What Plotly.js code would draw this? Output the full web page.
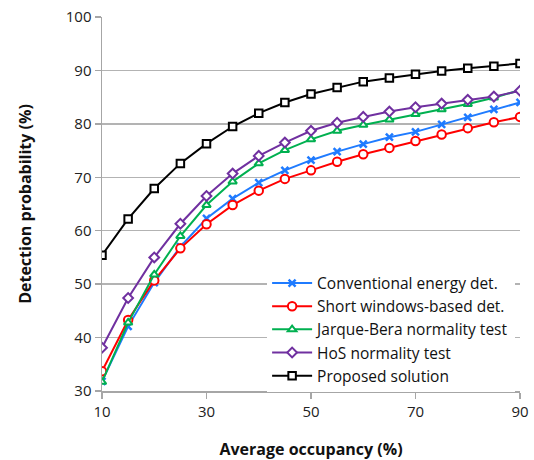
<!DOCTYPE html>
<html><head><meta charset="utf-8">
<script src="https://cdn.plot.ly/plotly-3.0.1.min.js"></script>
<style>body{margin:0;background:#fff}#c{width:534px;height:460px}</style>
</head><body><div id="c"></div>
<script>
var occupancy = [10,15,20,25,30,35,40,45,50,55,60,65,70,75,80,85,90];
var conventional = [31.8,42.1,50.3,57.0,62.3,66.0,69.0,71.3,73.2,74.8,76.2,77.5,78.5,79.9,81.2,82.7,84.0];
var shortWindows = [33.7,43.3,50.7,56.7,61.2,64.8,67.5,69.7,71.3,72.9,74.3,75.5,76.8,78.0,79.2,80.3,81.3];
var jarqueBera = [31.7,42.8,51.8,59.0,64.8,69.2,72.6,75.1,77.1,78.7,79.8,80.8,81.8,82.7,83.7,84.9,86.3];
var hos = [38.1,47.4,55.0,61.3,66.5,70.7,74.0,76.5,78.7,80.2,81.3,82.3,83.1,83.8,84.5,85.1,86.2];
var proposed = [55.4,62.2,67.9,72.6,76.3,79.5,82.0,84.0,85.6,86.8,87.9,88.6,89.3,89.9,90.4,90.8,91.3];
var names = ["Conventional energy det.","Short windows-based det.","Jarque-Bera normality test","HoS normality test","Proposed solution"];
var xTicks = [10,30,50,70,90];
var yTicks = [30,40,50,60,70,80,90,100];

function tr(y, name, color, symbol, size){
  return {x: occupancy, y: y, name: name, type:'scatter', mode:'lines+markers',
    line:{color:color, width:2},
    marker:{symbol:symbol, size:size, color:'#ffffff', line:{color:color, width:2}}};
}
var data = [
  tr(conventional, names[0], '#1f7bff', 'x-thin', 7),
  tr(shortWindows, names[1], '#ff0000', 'circle', 8.5),
  tr(jarqueBera, names[2], '#00b050', 'triangle-up', 7.5),
  tr(hos, names[3], '#7030a0', 'diamond', 7.5),
  tr(proposed, names[4], '#000000', 'square', 7.5)
];
data[0].marker = {symbol:'x-thin', size:7, color:'#1f7bff', line:{color:'#1f7bff', width:2.5}};
var layout = {
  width:534, height:460,
  margin:{l:102, r:14, t:17, b:69},
  paper_bgcolor:'#fff', plot_bgcolor:'#fff',
  font:{family:'Open Sans, sans-serif', size:15, color:'#222'},
  showlegend:true,
  legend:{x:0.395, y:0.333, xanchor:'left', yanchor:'top', bgcolor:'#fff',
    font:{size:15.5, color:'#111'}, tracegroupgap:0, itemwidth:40},
  xaxis:{range:[10,90], tickvals:xTicks, ticktext:xTicks.map(String),
    showgrid:false, zeroline:false, showline:true, linecolor:'#a6a6a6', linewidth:1.5,
    ticks:'outside', ticklen:6, tickcolor:'#a6a6a6', tickwidth:1.5,
    tickfont:{size:15}, fixedrange:true,
    title:{text:'<b>Average occupancy (%)</b>', font:{size:16, color:'#111'}, standoff:24}},
  yaxis:{range:[30,100], tickvals:yTicks, ticktext:yTicks.map(String),
    showgrid:true, gridcolor:'#b3b3b3', gridwidth:1.5, zeroline:false,
    showline:true, linecolor:'#a6a6a6', linewidth:1.5,
    ticks:'outside', ticklen:6, tickcolor:'#a6a6a6', tickwidth:1.5,
    tickfont:{size:15}, fixedrange:true,
    title:{text:'<b>Detection probability (%)</b>', font:{size:16, color:'#111'}, standoff:30}}
};
Plotly.newPlot('c', data, layout, {displayModeBar:false, staticPlot:true});
</script></body></html>
